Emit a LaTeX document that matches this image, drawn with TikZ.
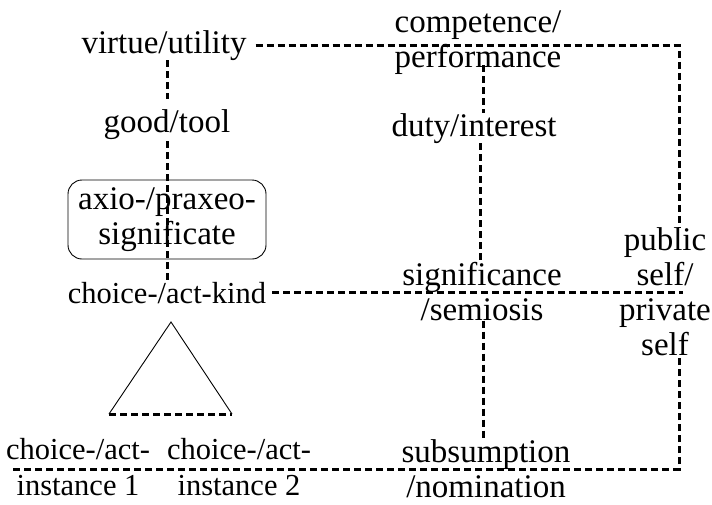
\documentclass[tikz,border=0pt]{standalone}
\usepackage{fontspec}
\setmainfont{Liberation Serif}
\begin{document}
\begin{tikzpicture}[x=1pt,y=1pt,
  txt/.style={inner sep=0pt, align=center, font=\fontsize{33}{35}\selectfont},
  txtn/.style={txt, font=\fontsize{30.5}{36}\selectfont},
  dl/.style={line width=3pt, dash pattern=on 7pt off 4pt},
  thinl/.style={line width=0.9pt}]
\useasboundingbox (0,0) rectangle (712,-504);
\fill[white] (0,0) rectangle (712,-504);
% nodes (anchor base = baseline of the last line)
\node[txt, anchor=base] (vu) at (164,-53) {virtue/utility};
\node[txt, anchor=base] (gt) at (167,-132) {good/tool};
\node[txt, draw, thinl, rounded corners=14pt, minimum width=198pt, minimum height=79pt] (ax) at (167,-219.5) {axio-/praxeo-\\significate};
\node[txtn, anchor=base] (ck) at (167,-303) {choice-/act-kind};
\node[txt, anchor=base] (cp) at (478,-67) {competence/\\performance};
\node[txt, anchor=base] (di) at (474,-136) {duty/interest};
\node[txt, anchor=base] (ss) at (482,-320) {significance\\/semiosis};
\node[txt, anchor=base] (ps) at (665,-355) {public\\self/\\private\\self};
\node[txtn, anchor=base] (c1) at (78,-495) {choice-/act-\\instance 1};
\node[txtn, anchor=base] (c2) at (239,-495) {choice-/act-\\instance 2};
\node[txt, anchor=base] (sn) at (486,-497) {subsumption\\/nomination};
% coordinates
\coordinate (tr) at (679,-44);
\coordinate (bl) at (13,-469);
\coordinate (ta) at (171,-322);
\coordinate (tl) at (109,-414);
\coordinate (tb) at (232,-414);
% triangle
\draw[thinl] (tl) -- (ta) -- (tb);
\draw[dl] (tl) -- (tb);
% connectors
\draw[dl] (gt.north |- vu.south) -- ([yshift=10pt]gt.north);
\draw[dl] ([yshift=-2pt]gt.south) -- (gt.south |- ck.north);
\draw[dl] ([xshift=9pt]vu.east) -- (vu.east -| tr) -- (tr |- ps.north);
\draw[dl] ([shift={(5pt,9pt)}]cp.south) coordinate (a1) -- (a1 |- di.north);
\draw[dl] ([xshift=6pt]di.south) coordinate (a2) -- (a2 |- ss.north);
\draw[dl] ([xshift=1pt]ss.south) coordinate (a3) -- (a3 |- sn.north);
\draw[dl, shorten >=-4pt] ([xshift=6pt]ck.east) -- (ck.east -| tr);
\draw[dl] (bl) -- (bl -| tr) -- (tr |- ps.south);
\end{tikzpicture}
\end{document}
